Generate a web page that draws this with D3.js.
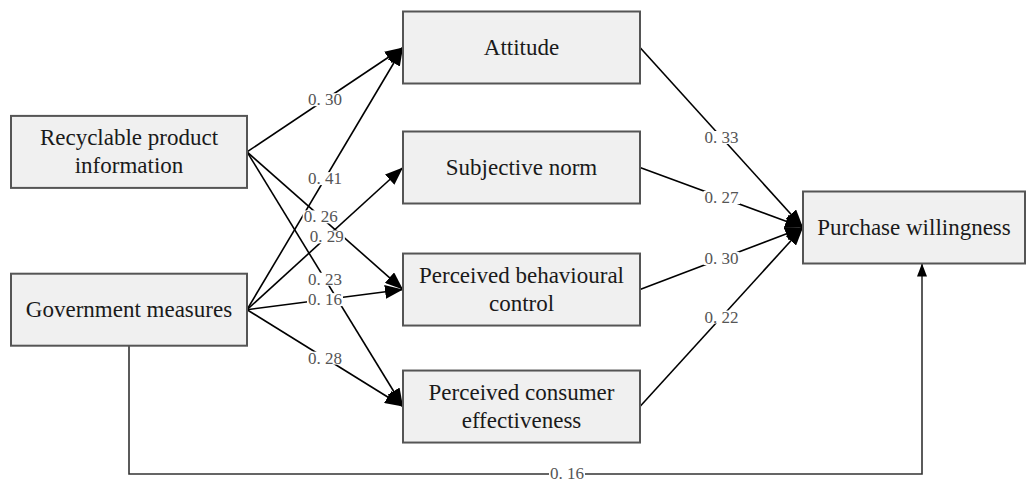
<!DOCTYPE html>
<html><head><meta charset="utf-8">
<script src="https://cdn.jsdelivr.net/npm/d3@7"></script>
<style>body{margin:0;background:#fff}svg{display:block}
.serif{font-family:"Liberation Serif","DejaVu Serif","Noto Serif",serif}</style>
</head><body>
<svg id="c" width="1027" height="483"></svg>
<script>
// ---- data ----
const nodeIds = ["rpi","gm","att","sn","pbc","pce","pw"];
const nodeLabels = [["Recyclable product","information"],["Government measures"],["Attitude"],["Subjective norm"],["Perceived behavioural","control"],["Perceived consumer","effectiveness"],["Purchase willingness"]];
const pathFrom = ["rpi","rpi","rpi","gm","gm","gm","gm","att","sn","pbc","pce"];
const pathTo   = ["att","pbc","pce","att","sn","pbc","pce","pw","pw","pw","pw"];
const coefficients = ["0. 30","0. 26","0. 23","0. 41","0. 29","0. 16","0. 28","0. 33","0. 27","0. 30","0. 22"];
const directFrom = "gm", directTo = "pw", directCoef = "0. 16";

// ---- layout (positions via scales) ----
const colOf = {rpi:0,gm:0,att:1,sn:1,pbc:1,pce:1,pw:2};
const rowOf = {rpi:0.87,gm:2.185,att:0,sn:1,pbc:2.017,pce:2.992,pw:1.5};
const labelT = {1:0.472, 4:0.512};   // nudge crowded labels along their line
const xLeft = d3.scaleOrdinal().domain([0,1,2]).range([11,403,803]);
const boxW  = d3.scaleOrdinal().domain([0,1,2]).range([236,237,222]);
const y = d3.scaleLinear().domain([0,3]).range([47.5,407.5]);
const boxH = 72;

const nodes = nodeIds.map((id,i)=>{
  const c = colOf[id];
  const x0 = xLeft(c), w = boxW(c), cy = y(rowOf[id]);
  return {id, lines:nodeLabels[i], x0, w, cy, y0: cy-boxH/2};
});
const byId = Object.fromEntries(nodes.map(n=>[n.id,n]));

const svg = d3.select("#c");
const defs = svg.append("defs");
defs.append("marker").attr("id","arr").attr("viewBox","0 0 18 14")
  .attr("refX",18).attr("refY",7).attr("markerWidth",18).attr("markerHeight",14)
  .attr("markerUnits","userSpaceOnUse").attr("orient","auto")
  .append("path").attr("d","M0,0 L18,7 L0,14 Z").attr("fill","#000");
defs.append("marker").attr("id","arrS").attr("viewBox","0 0 13 10")
  .attr("refX",13).attr("refY",5).attr("markerWidth",13).attr("markerHeight",10)
  .attr("markerUnits","userSpaceOnUse").attr("orient","auto")
  .append("path").attr("d","M0,0 L13,5 L0,10 Z").attr("fill","#000");

const edges = pathFrom.map((f,i)=>{
  const a = byId[f], b = byId[pathTo[i]];
  return {x1:a.x0+a.w, y1:a.cy, x2:b.x0, y2:b.cy, label:coefficients[i], t: labelT[i] ?? 0.5};
});

const gE = svg.append("g");
gE.selectAll("line").data(edges).join("line")
  .attr("x1",d=>d.x1).attr("y1",d=>d.y1).attr("x2",d=>d.x2).attr("y2",d=>d.y2)
  .attr("stroke","#000").attr("stroke-width",1.6).attr("marker-end","url(#arr)");

// direct path
const dA = byId[directFrom], dB = byId[directTo];
const bottomY = 474, dx1 = dA.x0 + dA.w/2, dx2 = 922;
svg.append("path")
  .attr("d", d3.line()([[dx1, dA.y0+boxH],[dx1,bottomY],[dx2,bottomY],[dx2, dB.y0+boxH]]))
  .attr("fill","none").attr("stroke","#333").attr("stroke-width",1.6).attr("marker-end","url(#arrS)");

// boxes
const gN = svg.append("g").selectAll("g").data(nodes).join("g");
gN.append("rect").attr("x",d=>d.x0).attr("y",d=>d.y0).attr("width",d=>d.w).attr("height",boxH)
  .attr("fill","#f0f0f0").attr("stroke","#555").attr("stroke-width",2);
gN.append("text").attr("class","serif").attr("text-anchor","middle")
  .attr("font-size",23).attr("fill","#1a1a1a")
  .each(function(d){
    const t = d3.select(this), n = d.lines.length;
    d.lines.forEach((l,i)=>{
      t.append("tspan").attr("x", d.x0+d.w/2).attr("y", d.cy + (i-(n-1)/2)*28 + 7.5).text(l);
    });
  });

// labels with white backgrounds
const gL = svg.append("g");
const lab = (x,yy,t,fs)=>{
  const g = gL.append("g");
  const r = g.append("rect").attr("fill","#fff");
  const tx = g.append("text").attr("class","serif").attr("x",x).attr("y",yy).attr("text-anchor","middle")
    .attr("dominant-baseline","central").attr("font-size",fs).attr("fill","#555").text(t);
  const b = tx.node().getBBox();
  r.attr("x",b.x-1).attr("y",b.y+3).attr("width",b.width+2).attr("height",b.height-6);
};
edges.forEach(e=> lab(e.x1+(e.x2-e.x1)*e.t, e.y1+(e.y2-e.y1)*e.t, e.label, 17));
lab(567, bottomY-1, directCoef, 17);
</script>
</body></html>
